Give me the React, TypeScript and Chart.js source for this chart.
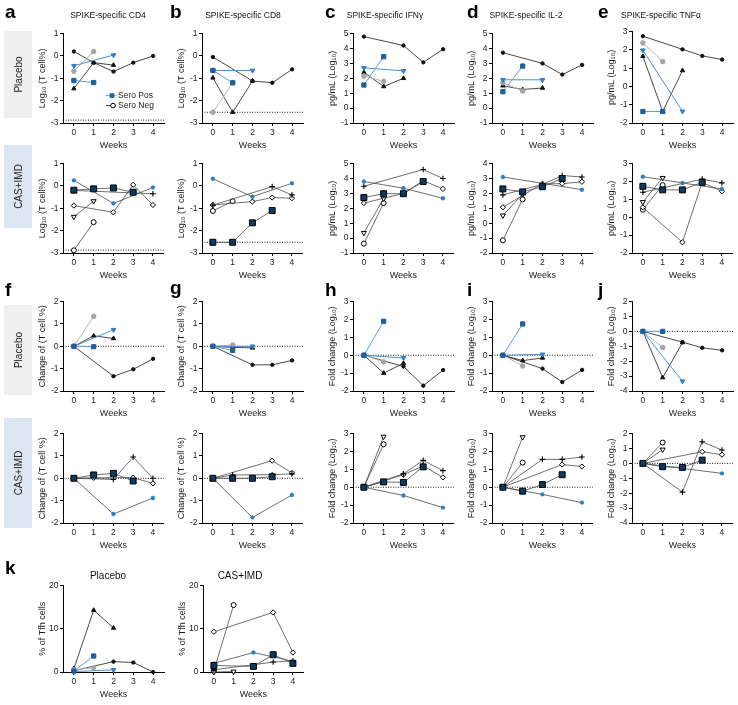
import React, { useEffect, useRef } from "react";
import { Chart, registerables } from "chart.js";
Chart.register(...registerables);
Chart.defaults.font.family = "'Liberation Sans', Arial, 'DejaVu Sans', sans-serif";

const WEEKS = [0, 1, 2, 3, 4];
type V = (number | null)[];

// ---------- Row 1: Placebo, raw values ----------
const A1_BS: V = [-1.1, -1.19, null, null, null];
const A1_BT: V = [-0.44, null, 0.04, null, null];
const A1_GC: V = [-0.68, 0.2, null, null, null];
const A1_KT: V = [-1.46, -0.3, -0.41, null, null];
const A1_KD: V = [0.2, -0.3, -0.7, -0.3, 0.0];
const B1_BS: V = [-0.65, -1.2, null, null, null];
const B1_BT: V = [-0.65, null, -0.65, null, null];
const B1_GC: V = [-2.52, -1.2, null, null, null];
const B1_KT: V = [-0.98, -2.52, -1.12, null, null];
const B1_KD: V = [-0.05, null, -1.12, -1.2, -0.6];
const C1_BS: V = [1.55, 3.45, null, null, null];
const C1_BT: V = [2.7, null, 2.5, null, null];
const C1_GC: V = [2.15, 1.8, null, null, null];
const C1_KT: V = [2.4, 1.45, 2.0, null, null];
const C1_KD: V = [4.8, null, 4.2, 3.07, 3.95];
const D1_BS: V = [1.1, 2.82, null, null, null];
const D1_BT: V = [1.9, null, 1.9, null, null];
const D1_GC: V = [1.7, 1.15, null, null, null];
const D1_KT: V = [1.5, 1.25, 1.35, null, null];
const D1_KD: V = [3.72, null, 3.0, 2.25, 2.9];
const E1_BS: V = [-1.37, -1.37, null, null, null];
const E1_BT: V = [1.98, null, -1.36, null, null];
const E1_GC: V = [2.38, 1.36, null, null, null];
const E1_KT: V = [1.65, -1.37, 0.87, null, null];
const E1_KD: V = [2.75, null, 2.03, 1.67, 1.47];

// ---------- Row 2: CAS+IMD, raw values ----------
const A2_SQ: V = [-0.19, -0.13, -0.09, -0.28, null];
const A2_ST: V = [0.25, null, -0.78, null, -0.07];
const A2_PL: V = [-0.2, null, null, null, -0.35];
const A2_DI: V = [-0.88, null, -1.18, 0.05, -0.85];
const A2_TR: V = [-1.38, -0.68, null, null, null];
const A2_CI: V = [-2.88, -1.62, null, null, null];
const B2_SQ: V = [-2.52, -2.52, -1.65, -1.1, null];
const B2_ST: V = [0.32, null, -0.48, null, 0.12];
const B2_PL: V = [-0.86, null, null, -0.03, -0.4];
const B2_DI: V = [-0.85, null, -0.7, -0.52, -0.55];
const B2_CI: V = [-1.12, -0.68, null, null, null];
const C2_SQ: V = [2.72, 2.98, 2.98, 3.8, null];
const C2_ST: V = [3.8, null, 3.35, null, 2.67];
const C2_PL: V = [3.48, null, null, 4.6, 4.0];
const C2_DI: V = [2.35, null, 3.0, 3.85, 3.3];
const C2_TR: V = [0.35, 2.65, null, null, null];
const C2_CI: V = [-0.37, 2.35, null, null, null];
const D2_SQ: V = [2.3, 2.1, 2.45, 3.0, null];
const D2_ST: V = [3.1, null, null, null, 2.25];
const D2_PL: V = [1.9, null, 2.6, 3.2, 3.1];
const D2_DI: V = [1.07, null, 2.65, 2.65, 2.78];
const D2_TR: V = [0.52, 1.95, null, null, null];
const D2_CI: V = [-1.15, 1.6, null, null, null];
const E2_SQ: V = [1.73, 1.53, 1.53, 1.95, null];
const E2_ST: V = [2.27, null, 1.92, null, 1.58];
const E2_PL: V = [1.4, null, null, 2.13, 1.92];
const E2_DI: V = [0.55, null, -1.4, 1.95, 1.45];
const E2_TR: V = [0.85, 2.2, null, null, null];
const E2_CI: V = [0.42, 1.8, null, null, null];

// ---------- Row 3: Placebo, change from week 0 ----------
const F3_BS: V = [0, -0.02, null, null, null];
const F3_BT: V = [0, null, 0.74, null, null];
const F3_GC: V = [0, 1.34, null, null, null];
const F3_KT: V = [0, 0.47, 0.35, null, null];
const F3_KD: V = [0, null, -1.34, -1.03, -0.56];
const G3_BS: V = [0, -0.18, null, null, null];
const G3_BT: V = [0, null, 0.0, null, null];
const G3_GC: V = [0, 0.06, null, null, null];
const G3_KT: V = [0, -0.05, -0.07, null, null];
const G3_KD: V = [0, null, -0.83, -0.83, -0.63];
const H3_BS: V = [0, 1.9, null, null, null];
const H3_BT: V = [0, null, -0.15, null, null];
const H3_GC: V = [0, -0.37, null, null, null];
const H3_KT: V = [0, -1.0, -0.45, null, null];
const H3_KD: V = [0, null, -0.63, -1.7, -0.83];
const I3_BS: V = [0, 1.75, null, null, null];
const I3_BT: V = [0, null, 0.05, null, null];
const I3_GC: V = [0, -0.6, null, null, null];
const I3_KT: V = [0, -0.3, -0.15, null, null];
const I3_KD: V = [0, null, -0.75, -1.5, -0.82];
const J3_BS: V = [0, 0, null, null, null];
const J3_BT: V = [0, null, -3.35, null, null];
const J3_GC: V = [0, -1.08, null, null, null];
const J3_KT: V = [0, -3.1, -0.75, null, null];
const J3_KD: V = [0, null, -0.72, -1.1, -1.27];

// ---------- Row 4: CAS+IMD, change from week 0 ----------
const F4_SQ: V = [0, 0.15, 0.22, -0.12, null];
const F4_ST: V = [0, null, -1.6, null, -0.88];
const F4_PL: V = [0, null, -0.05, 0.95, 0.0];
const F4_DI: V = [0, 0.02, null, 0.03, -0.23];
const G4_SQ: V = [0, 0, 0, 0.07, null];
const G4_ST: V = [0, null, -1.75, null, -0.75];
const G4_PL: V = [0, 0.15, null, 0.16, 0.2];
const G4_DI: V = [0, null, null, 0.79, 0.24];
const H4_SQ: V = [0, 0.3, 0.27, 1.14, null];
const H4_ST: V = [0, null, -0.46, null, -1.14];
const H4_PL: V = [0, null, 0.75, 1.5, 0.93];
const H4_DI: V = [0, null, 0.7, 1.2, 0.55];
const H4_TR: V = [0, 2.83, null, null, null];
const H4_CI: V = [0, 2.4, null, null, null];
const I4_SQ: V = [0, -0.22, 0.15, 0.7, null];
const I4_ST: V = [0, null, -0.4, null, -0.86];
const I4_PL: V = [0, null, 1.56, 1.56, 1.69];
const I4_DI: V = [0, null, null, 1.27, 1.16];
const I4_TR: V = [0, 2.8, null, null, null];
const I4_CI: V = [0, 1.38, null, null, null];
const J4_SQ: V = [0, -0.22, -0.27, 0.22, null];
const J4_ST: V = [0, null, null, null, -0.67];
const J4_PL: V = [0, null, -1.93, 1.45, 0.9];
const J4_DI: V = [0, null, null, 0.78, 0.58];
const J4_TR: V = [0, 0.93, null, null, null];
const J4_CI: V = [0, 1.4, null, null, null];

// ---------- Row k: % of Tfh cells ----------
const KP_KT: V = [0.8, 14.3, 10.2, null, null];
const KP_BS: V = [0.2, 3.7, null, null, null];
const KP_KD: V = [0.3, null, 2.4, 2.2, 0.0];
const KP_GC: V = [0.5, 1.0, null, null, null];
const KP_BT: V = [0.1, null, 0.5, null, null];
const KC_CI: V = [0.3, 15.5, null, null, null];
const KC_DI: V = [9.3, null, null, 13.8, 4.5];
const KC_ST: V = [2.0, null, 4.5, null, 2.5];
const KC_SQ: V = [1.5, null, 1.3, 4.0, 2.0];
const KC_PL: V = [0.5, null, null, 2.3, 2.6];
const KC_TR: V = [0.0, 0.1, null, null, null];

// limits of detection (dotted lines)
const LOD_CD4 = -2.87;
const LOD_CD8 = -2.52;

// tick labels
const T_CELL = [-3, -2, -1, 0, 1];
const T_CYT5 = [-1, 0, 1, 2, 3, 4, 5];
const T_IL2B = [-2, -1, 0, 1, 2, 3, 4];
const T_TNF = [-2, -1, 0, 1, 2, 3];
const T_CHG = [-2, -1, 0, 1, 2];
const T_FC = [-2, -1, 0, 1, 2, 3];
const T_FCT = [-4, -3, -2, -1, 0, 1, 2];
const T_TFH = [0, 10, 20];

type Key = "BS" | "BT" | "GC" | "KT" | "KD" | "SQ" | "ST" | "PL" | "DI" | "TR" | "CI";
const STYLES: Record<Key, any> = {
  BS: { ps: "rect", r: 3.0, bg: "#1f5f9c", bc: "#1f5f9c", bw: 1, line: "#5c9ed6", lw: 1, rot: 0 },
  BT: { ps: "triangle", r: 2.7, bg: "#2f7fc4", bc: "#2f7fc4", bw: 1, line: "#4a90d0", lw: 1, rot: 180 },
  GC: { ps: "circle", r: 2.3, bg: "#a5a5a5", bc: "#a5a5a5", bw: 1, line: "#b5b5b5", lw: 1, rot: 0 },
  KT: { ps: "triangle", r: 2.5, bg: "#111", bc: "#111", bw: 1, line: "#333", lw: 0.9, rot: 0 },
  KD: { ps: "circle", r: 1.7, bg: "#111", bc: "#111", bw: 1, line: "#333", lw: 0.9, rot: 0 },
  SQ: { ps: "rect", r: 4.2, bg: "#0d3a60", bc: "#000", bw: 1, line: "#4a4a4a", lw: 0.8, rot: 0 },
  ST: { ps: "star", r: 2.2, bg: "#2a7fc6", bc: "#2a7fc6", bw: 1.2, line: "#4a4a4a", lw: 0.8, rot: 0 },
  PL: { ps: "cross", r: 2.8, bg: "#000", bc: "#000", bw: 1.1, line: "#4a4a4a", lw: 0.8, rot: 0 },
  DI: { ps: "rectRot", r: 2.6, bg: "#fff", bc: "#000", bw: 1, line: "#4a4a4a", lw: 0.8, rot: 0 },
  TR: { ps: "triangle", r: 2.9, bg: "#fff", bc: "#000", bw: 1, line: "#4a4a4a", lw: 0.8, rot: 180 },
  CI: { ps: "circle", r: 2.5, bg: "#fff", bc: "#000", bw: 1, line: "#4a4a4a", lw: 0.8, rot: 0 },
};

interface PanelDef {
  id: string;
  axisX: number;
  top: number;
  h: number;
  ticks: number[];
  yTitle: string;
  series: [Key, V][];
  dotted?: number;
  legend?: boolean;
}

const Y_LOG = "Log\u2081\u2080 (T cell%)";
const Y_PG = "pg/mL (Log\u2081\u2080)";
const Y_CHG = "Change of (T cell %)";
const Y_FC = "Fold change (Log\u2081\u2080)";
const Y_TFH = "% of Tfh cells";

const COLX = [63, 202, 353, 492, 632];
const ROWY = [33, 163, 301, 433];
const PH = 90;

const PANELS: PanelDef[] = [
  { id: "a1", axisX: COLX[0], top: ROWY[0], h: PH, ticks: T_CELL, yTitle: Y_LOG, dotted: LOD_CD4, legend: true,
    series: [["BS", A1_BS], ["BT", A1_BT], ["GC", A1_GC], ["KT", A1_KT], ["KD", A1_KD]] },
  { id: "b1", axisX: COLX[1], top: ROWY[0], h: PH, ticks: T_CELL, yTitle: Y_LOG, dotted: LOD_CD8,
    series: [["BS", B1_BS], ["BT", B1_BT], ["GC", B1_GC], ["KT", B1_KT], ["KD", B1_KD]] },
  { id: "c1", axisX: COLX[2], top: ROWY[0], h: PH, ticks: T_CYT5, yTitle: Y_PG,
    series: [["BS", C1_BS], ["BT", C1_BT], ["GC", C1_GC], ["KT", C1_KT], ["KD", C1_KD]] },
  { id: "d1", axisX: COLX[3], top: ROWY[0], h: PH, ticks: T_CYT5, yTitle: Y_PG,
    series: [["BS", D1_BS], ["BT", D1_BT], ["GC", D1_GC], ["KT", D1_KT], ["KD", D1_KD]] },
  { id: "e1", axisX: COLX[4], top: ROWY[0] - 2, h: PH + 2, ticks: T_TNF, yTitle: Y_PG,
    series: [["BS", E1_BS], ["BT", E1_BT], ["GC", E1_GC], ["KT", E1_KT], ["KD", E1_KD]] },

  { id: "a2", axisX: COLX[0], top: ROWY[1], h: PH, ticks: T_CELL, yTitle: Y_LOG, dotted: LOD_CD4,
    series: [["SQ", A2_SQ], ["ST", A2_ST], ["PL", A2_PL], ["DI", A2_DI], ["TR", A2_TR], ["CI", A2_CI]] },
  { id: "b2", axisX: COLX[1], top: ROWY[1], h: PH, ticks: T_CELL, yTitle: Y_LOG, dotted: LOD_CD8,
    series: [["SQ", B2_SQ], ["ST", B2_ST], ["PL", B2_PL], ["DI", B2_DI], ["CI", B2_CI]] },
  { id: "c2", axisX: COLX[2], top: ROWY[1], h: PH, ticks: T_CYT5, yTitle: Y_PG,
    series: [["SQ", C2_SQ], ["ST", C2_ST], ["PL", C2_PL], ["DI", C2_DI], ["TR", C2_TR], ["CI", C2_CI]] },
  { id: "d2", axisX: COLX[3], top: ROWY[1], h: PH, ticks: T_IL2B, yTitle: Y_PG,
    series: [["SQ", D2_SQ], ["ST", D2_ST], ["PL", D2_PL], ["DI", D2_DI], ["TR", D2_TR], ["CI", D2_CI]] },
  { id: "e2", axisX: COLX[4], top: ROWY[1], h: PH, ticks: T_TNF, yTitle: Y_PG,
    series: [["SQ", E2_SQ], ["ST", E2_ST], ["PL", E2_PL], ["DI", E2_DI], ["TR", E2_TR], ["CI", E2_CI]] },

  { id: "f3", axisX: COLX[0], top: ROWY[2], h: PH, ticks: T_CHG, yTitle: Y_CHG, dotted: 0,
    series: [["BS", F3_BS], ["BT", F3_BT], ["GC", F3_GC], ["KT", F3_KT], ["KD", F3_KD]] },
  { id: "g3", axisX: COLX[1], top: ROWY[2], h: PH, ticks: T_CHG, yTitle: Y_CHG, dotted: 0,
    series: [["BS", G3_BS], ["BT", G3_BT], ["GC", G3_GC], ["KT", G3_KT], ["KD", G3_KD]] },
  { id: "h3", axisX: COLX[2], top: ROWY[2], h: PH, ticks: T_FC, yTitle: Y_FC, dotted: 0,
    series: [["BS", H3_BS], ["BT", H3_BT], ["GC", H3_GC], ["KT", H3_KT], ["KD", H3_KD]] },
  { id: "i3", axisX: COLX[3], top: ROWY[2], h: PH, ticks: T_FC, yTitle: Y_FC, dotted: 0,
    series: [["BS", I3_BS], ["BT", I3_BT], ["GC", I3_GC], ["KT", I3_KT], ["KD", I3_KD]] },
  { id: "j3", axisX: COLX[4], top: ROWY[2], h: PH, ticks: T_FCT, yTitle: Y_FC, dotted: 0,
    series: [["BS", J3_BS], ["BT", J3_BT], ["GC", J3_GC], ["KT", J3_KT], ["KD", J3_KD]] },

  { id: "f4", axisX: COLX[0], top: ROWY[3], h: PH, ticks: T_CHG, yTitle: Y_CHG, dotted: 0,
    series: [["SQ", F4_SQ], ["ST", F4_ST], ["PL", F4_PL], ["DI", F4_DI]] },
  { id: "g4", axisX: COLX[1], top: ROWY[3], h: PH, ticks: T_CHG, yTitle: Y_CHG, dotted: 0,
    series: [["SQ", G4_SQ], ["ST", G4_ST], ["PL", G4_PL], ["DI", G4_DI]] },
  { id: "h4", axisX: COLX[2], top: ROWY[3], h: PH, ticks: T_FC, yTitle: Y_FC, dotted: 0,
    series: [["SQ", H4_SQ], ["ST", H4_ST], ["PL", H4_PL], ["DI", H4_DI], ["TR", H4_TR], ["CI", H4_CI]] },
  { id: "i4", axisX: COLX[3], top: ROWY[3], h: PH, ticks: T_FC, yTitle: Y_FC, dotted: 0,
    series: [["SQ", I4_SQ], ["ST", I4_ST], ["PL", I4_PL], ["DI", I4_DI], ["TR", I4_TR], ["CI", I4_CI]] },
  { id: "j4", axisX: COLX[4], top: ROWY[3], h: PH, ticks: T_FCT, yTitle: Y_FC, dotted: 0,
    series: [["SQ", J4_SQ], ["ST", J4_ST], ["PL", J4_PL], ["DI", J4_DI], ["TR", J4_TR], ["CI", J4_CI]] },

  { id: "kp", axisX: 63, top: 585, h: 87, ticks: T_TFH, yTitle: Y_TFH,
    series: [["BS", KP_BS], ["BT", KP_BT], ["GC", KP_GC], ["KT", KP_KT], ["KD", KP_KD]] },
  { id: "kc", axisX: 203, top: 585, h: 87, ticks: T_TFH, yTitle: Y_TFH,
    series: [["SQ", KC_SQ], ["ST", KC_ST], ["PL", KC_PL], ["DI", KC_DI], ["TR", KC_TR], ["CI", KC_CI]] },
];

const FONT = "'Liberation Sans', Arial, 'DejaVu Sans', sans-serif";

const legendPlugin = {
  id: "seroLegend",
  afterDatasetsDraw(chart: any) {
    const { ctx, chartArea } = chart;
    const x0 = chartArea.left + 43;
    const y1 = chartArea.top + 62;
    const y2 = chartArea.top + 72;
    ctx.save();
    ctx.lineWidth = 1;
    ctx.strokeStyle = "#5c9ed6";
    ctx.beginPath(); ctx.moveTo(x0, y1); ctx.lineTo(x0 + 10, y1); ctx.stroke();
    ctx.fillStyle = "#1f5f9c";
    ctx.fillRect(x0 + 6 - 2.3, y1 - 2.3, 4.6, 4.6);
    ctx.strokeStyle = "#333";
    ctx.beginPath(); ctx.moveTo(x0, y2); ctx.lineTo(x0 + 10, y2); ctx.stroke();
    ctx.beginPath(); ctx.arc(x0 + 7, y2, 2.3, 0, Math.PI * 2);
    ctx.fillStyle = "#fff"; ctx.fill(); ctx.strokeStyle = "#000"; ctx.stroke();
    ctx.fillStyle = "#222";
    ctx.font = `8.5px ${FONT}`;
    ctx.textBaseline = "middle";
    ctx.textAlign = "left";
    ctx.fillText("Sero Pos", x0 + 12, y1);
    ctx.fillText("Sero Neg", x0 + 12, y2);
    ctx.restore();
  },
};

const XMIN = -0.55, XMAX = 4.55;
const YW = 30, XH = 30, PADT = 6, PADR = 4, PW = 102;

function PanelChart({ p }: { p: PanelDef }) {
  const ref = useRef<HTMLCanvasElement>(null);
  useEffect(() => {
    const datasets: any[] = p.series.map(([k, vals]) => {
      const s = STYLES[k];
      const data = WEEKS.map((w, i) => (vals[i] == null ? null : { x: w, y: vals[i] as number })).filter(
        (d) => d !== null
      );
      return {
        data,
        borderColor: s.line,
        borderWidth: s.lw,
        pointStyle: s.ps,
        pointRadius: s.r,
        pointBackgroundColor: s.bg,
        pointBorderColor: s.bc,
        pointBorderWidth: s.bw,
        pointRotation: s.rot,
        fill: false,
        tension: 0,
        clip: false,
      };
    });
    if (p.dotted !== undefined) {
      datasets.push({
        data: [{ x: XMIN, y: p.dotted }, { x: XMAX, y: p.dotted }],
        borderColor: "#222",
        borderWidth: 1,
        borderDash: [1, 1.5],
        pointRadius: 0,
        fill: false,
        clip: false,
      });
    }
    const tickFont = { size: 8.5, family: FONT };
    const titleFont = { size: 9, family: FONT };
    const chart = new Chart(ref.current as HTMLCanvasElement, {
      type: "line",
      data: { datasets },
      options: {
        animation: false,
        responsive: false,
        devicePixelRatio: 1,
        events: [],
        layout: { padding: { top: PADT, right: PADR, left: 0, bottom: 0 } },
        plugins: { legend: { display: false }, tooltip: { enabled: false } },
        scales: {
          x: {
            type: "linear",
            min: XMIN,
            max: XMAX,
            afterBuildTicks: (s: any) => {
              s.ticks = WEEKS.map((v) => ({ value: v }));
            },
            afterFit: (s: any) => {
              s.height = XH;
            },
            grid: { display: true, drawOnChartArea: false, drawTicks: true, tickLength: 3, color: "#000", lineWidth: 1 },
            border: { display: true, color: "#000", width: 1 },
            ticks: { padding: 2, color: "#1a1a1a", font: tickFont, maxRotation: 0, autoSkip: false },
            title: { display: true, text: "Weeks", color: "#1a1a1a", font: titleFont, padding: { top: 0, bottom: 2 } },
          },
          y: {
            type: "linear",
            min: p.ticks[0],
            max: p.ticks[p.ticks.length - 1],
            afterBuildTicks: (s: any) => {
              s.ticks = p.ticks.map((v) => ({ value: v }));
            },
            afterFit: (s: any) => {
              s.width = YW;
            },
            grid: { display: true, drawOnChartArea: false, drawTicks: true, tickLength: 3, color: "#000", lineWidth: 1 },
            border: { display: true, color: "#000", width: 1 },
            ticks: { padding: 1.5, color: "#1a1a1a", font: tickFont, autoSkip: false },
            title: { display: true, text: p.yTitle, color: "#1a1a1a", font: titleFont, padding: { top: 4, bottom: 0 } },
          },
        },
      } as any,
      plugins: p.legend ? [legendPlugin as any] : [],
    });
    return () => chart.destroy();
  }, [p]);
  const w = YW + PW + PADR;
  const h = PADT + p.h + XH;
  return (
    <canvas
      ref={ref}
      width={w}
      height={h}
      style={{ position: "absolute", left: p.axisX - YW, top: p.top - PADT, width: w, height: h }}
    />
  );
}

const LETTERS: [string, number, number][] = [
  ["a", 5, 18], ["b", 170, 18], ["c", 325, 18], ["d", 467, 18], ["e", 598, 18],
  ["f", 5, 296], ["g", 170, 294], ["h", 325, 296], ["i", 467, 296], ["j", 598, 296],
  ["k", 5, 574],
];
const TITLES: [string, number, number][] = [
  ["SPIKE-specific CD4", 108, 15], ["SPIKE-specific CD8", 243, 15], ["SPIKE-specific IFN\u03b3", 385, 15],
  ["SPIKE-specific IL-2", 526, 15], ["SPIKE-specific TNF\u03b1", 661, 15],
  ["Placebo", 108, 575], ["CAS+IMD", 240, 575],
];
const ROWBOXES: [string, number, number, string][] = [
  ["Placebo", 31, 87, "#efefef"],
  ["CAS+IMD", 145, 83, "#dce6f2"],
  ["Placebo", 305, 90, "#efefef"],
  ["CAS+IMD", 418, 110, "#dce6f2"],
];

export default function App() {
  return (
    <div style={{ position: "fixed", left: 0, top: 0, width: 738, height: 705, background: "#fff", overflow: "hidden" }}>
      <svg
        width={738}
        height={705}
        style={{ position: "absolute", left: 0, top: 0, willChange: "transform" }}
        fontFamily={FONT}
      >
        <rect x={0} y={0} width={738} height={705} fill="#fff" />
        {ROWBOXES.map(([t, y, h, c], i) => (
          <g key={"rb" + i}>
            <rect x={4} y={y} width={28} height={h} fill={c} />
            <text
              transform={`translate(18.5,${y + h / 2}) rotate(-90)`}
              textAnchor="middle"
              dominantBaseline="central"
              fontSize={10}
              fill="#222"
            >
              {t}
            </text>
          </g>
        ))}
        {LETTERS.map(([t, x, y]) => (
          <text key={"l" + t} x={x} y={y} fontSize={19} fontWeight="bold" fill="#000">
            {t}
          </text>
        ))}
        {TITLES.map(([t, x, y], i) => (
          <text key={"t" + i} x={x} y={y} textAnchor="middle" dominantBaseline="central" fontSize={i >= 5 ? 10 : 8.5} fill="#111">
            {t}
          </text>
        ))}
      </svg>
      {PANELS.map((p) => (
        <PanelChart key={p.id} p={p} />
      ))}
    </div>
  );
}
